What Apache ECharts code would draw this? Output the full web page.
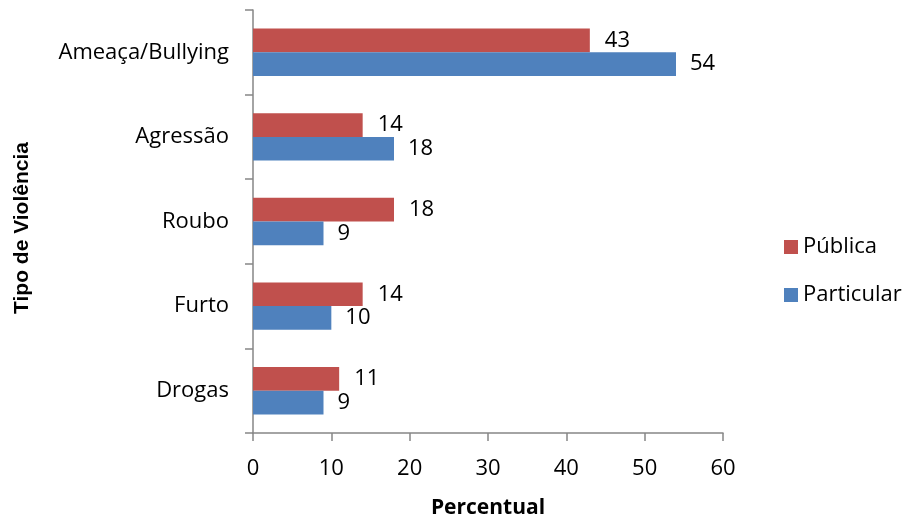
<!DOCTYPE html>
<html>
<head>
<meta charset="utf-8">
<script src="https://cdn.jsdelivr.net/npm/echarts@6/dist/echarts.min.js"></script>
<style>html,body{margin:0;padding:0;background:#fff}#c{width:908px;height:519px}</style>
</head>
<body>
<div id="c"></div>
<script>
const categories = ['Ameaça/Bullying', 'Agressão', 'Roubo', 'Furto', 'Drogas'];
const publica = [43, 14, 18, 14, 11];
const particular = [54, 18, 9, 10, 9];
const xTicks = [0, 10, 20, 30, 40, 50, 60];

const FONT = 'Open Sans';
const FS = 22;
const chart = echarts.init(document.getElementById('c'));
chart.setOption({
  animation: false,
  textStyle: { fontFamily: FONT },
  grid: { left: 253, right: 185, top: 10, bottom: 86, containLabel: false, outerBoundsMode: 'none' },
  legend: {
    orient: 'vertical', left: 779, top: 231, itemGap: 26,
    itemWidth: 14, itemHeight: 14, icon: 'rect',
    textStyle: { fontSize: FS, color: '#000', fontFamily: FONT },
    data: ['Pública', 'Particular']
  },
  xAxis: {
    type: 'value', min: xTicks[0], max: xTicks[xTicks.length - 1], interval: 10,
    name: 'Percentual', nameLocation: 'middle', nameGap: 65,
    nameTextStyle: { fontSize: 21, fontWeight: 'bold', color: '#000', fontFamily: FONT },
    axisLine: { show: true, lineStyle: { color: '#868686', width: 1.5 } },
    axisTick: { show: true, length: 8, lineStyle: { color: '#868686', width: 1.5 } },
    axisLabel: { fontSize: FS, color: '#000', margin: 25, fontFamily: FONT },
    splitLine: { show: false }
  },
  yAxis: {
    type: 'category', data: categories, inverse: true,
    name: 'Tipo de Violência', nameLocation: 'middle', nameGap: 220, nameRotate: 90,
    nameTextStyle: { fontSize: 21, fontWeight: 'bold', color: '#000', fontFamily: 'Liberation Sans', padding: [0, 13, 0, 0] },
    axisLine: { lineStyle: { color: '#868686', width: 1.5 } },
    axisTick: { show: true, length: 8, lineStyle: { color: '#868686', width: 1.5 } },
    axisLabel: { fontSize: FS, color: '#000', margin: 24, fontFamily: FONT }
  },
  series: [
    {
      name: 'Pública', type: 'bar', data: publica, barGap: '0%', barCategoryGap: '44%',
      itemStyle: { color: '#C0504D' },
      label: { show: true, position: 'right', distance: 15, fontSize: FS, color: '#000', fontFamily: FONT }
    },
    {
      name: 'Particular', type: 'bar', data: particular, barGap: '0%', barCategoryGap: '44%',
      itemStyle: { color: '#4F81BD' },
      label: { show: true, position: 'right', distance: 14, fontSize: FS, color: '#000', fontFamily: FONT }
    }
  ]
});
</script>
</body>
</html>
